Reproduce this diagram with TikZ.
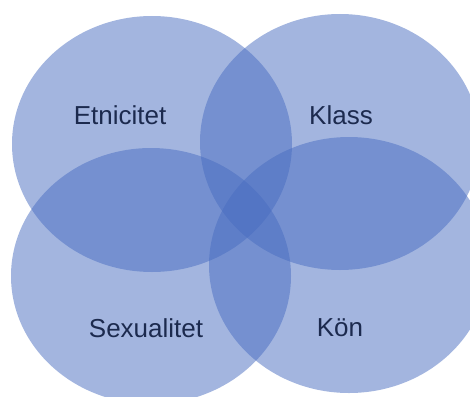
\documentclass[tikz,border=0pt]{standalone}
\usepackage{fontspec}
\setmainfont{Liberation Sans}
\definecolor{setblue}{RGB}{72,108,192}
\definecolor{labelnavy}{RGB}{28,42,78}
\begin{document}
\begin{tikzpicture}[x=1pt,y=-1pt,
  venn/.style={fill=setblue,fill opacity=0.5},
  lbl/.style={text=labelnavy,font=\fontsize{26}{30}\selectfont,inner sep=0pt}]
\useasboundingbox (0,0) rectangle (470,396);

\fill[venn] (152,144) ellipse (140pt and 128pt);
\fill[venn] (340,142) ellipse (140pt and 128pt);
\fill[venn] (151,276) ellipse (140pt and 128pt);
\fill[venn] (349,265) ellipse (140pt and 128pt);

\node[lbl] (etnicitet) at (120,115) {Etnicitet};
\node[lbl] (klass) at (341,115) {Klass};
\node[lbl] (sexualitet) at (146,328) {Sexualitet};
\node[lbl] (kon) at (340,328) {Kön};

\end{tikzpicture}
\end{document}
